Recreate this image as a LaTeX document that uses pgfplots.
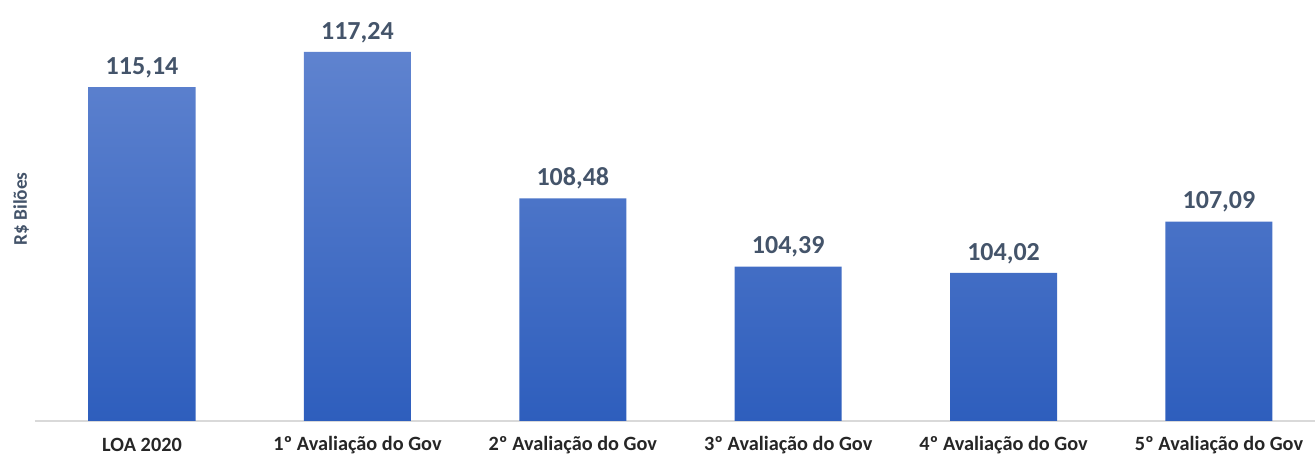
\documentclass[border=0pt]{standalone}
\usepackage{fontspec}
\setmainfont{Carlito}
\usepackage{pgfplots}
\pgfplotsset{compat=1.18}
\definecolor{lab}{HTML}{44546A}
\definecolor{bartop}{HTML}{5F83CF}
\definecolor{barbot}{HTML}{2E5EBD}
\definecolor{axl}{HTML}{D9D9D9}
\definecolor{tick}{HTML}{262626}
\begin{document}
\begin{tikzpicture}
\path[use as bounding box] (-26.25pt,-26.25pt) rectangle (960pt,315.75pt);
\begin{axis}[
  at={(0pt,0pt)}, anchor=south west,
  scale only axis, width=960pt, height=315.75pt,
  xmin=-0.497, xmax=5.446, ymin=95.16, ymax=120.35,
  axis lines=none,
  xtick=\empty, ytick=\empty,
  clip=false,
]
\draw[axl, line width=1.1pt] (axis cs:-0.497,95.16) -- (axis cs:5.446,95.16);
\addplot[ybar, bar width=80.25pt, draw=none, top color=bartop, bottom color=barbot,
  nodes near coords, point meta=explicit symbolic,
  every node near coord/.append style={font=\fontsize{19.5}{20}\selectfont\bfseries, text=lab, anchor=south, yshift=3.5pt}]
  table[meta=label] {
x y label
0 115.14 {115,14}
1 117.24 {117,24}
2 108.48 {108,48}
3 104.39 {104,39}
4 104.02 {104,02}
5 107.09 {107,09}
};
\foreach \i/\t in {0/LOA 2020,1/1º Avaliação do Gov,2/2º Avaliação do Gov,3/3º Avaliação do Gov,4/4º Avaliação do Gov,5/5º Avaliação do Gov}{
  \edef\tmp{\noexpand\node[font=\noexpand\fontsize{15.2}{16}\noexpand\selectfont\noexpand\bfseries, text=tick, anchor=center] at (axis cs:\i,95.16) [yshift=-18pt] {\t};}
  \tmp
}
\end{axis}
\node[rotate=90, font=\fontsize{14.5}{15}\selectfont\bfseries, text=lab] at (-10.5pt, 159pt) {R\$ Bilões};
\end{tikzpicture}
\end{document}
